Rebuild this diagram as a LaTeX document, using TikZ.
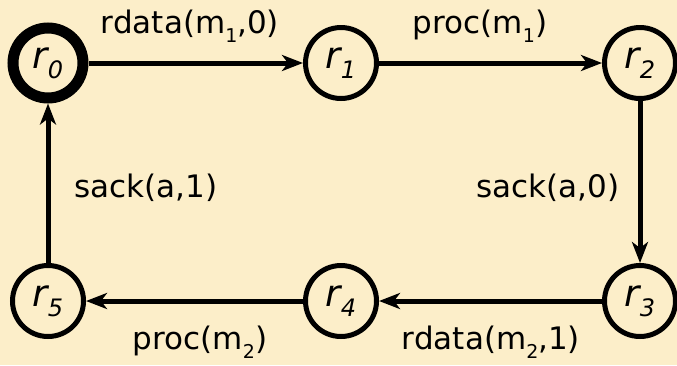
\documentclass[tikz,border=0pt]{standalone}
\usepackage{fontspec}
\setmainfont{DejaVu Sans}
\usetikzlibrary{arrows.meta}
\definecolor{bg}{HTML}{FCEEC9}
\newcommand{\stsub}[1]{\raisebox{-0.27em}{\fontsize{24}{24}\selectfont #1}}
\newcommand{\lbsub}[1]{\raisebox{-0.3em}{\fontsize{19}{19}\selectfont #1}}
\begin{document}
\begin{tikzpicture}[x=1pt,y=-1pt,
  state/.style={circle,draw,line width=5pt,minimum size=71pt,inner sep=0pt,
    font=\fontsize{37}{40}\selectfont\itshape},
  init/.style={state,line width=11pt,minimum size=70pt},
  trans/.style={line width=5pt,-{Stealth[length=21pt,width=16pt,inset=6pt]}},
  lbl/.style={font=\fontsize{31}{33}\selectfont,inner sep=0pt,anchor=base}]
\fill[bg] (0,0) rectangle (677,365);
\useasboundingbox (0,0) rectangle (677,365);
\node[init]  (r0) at (48,63)  {r\stsub{0}};
\node[state] (r1) at (341,63) {r\stsub{1}};
\node[state] (r2) at (640,63) {r\stsub{2}};
\node[state] (r3) at (640,301) {r\stsub{3}};
\node[state] (r4) at (341,301) {r\stsub{4}};
\node[state] (r5) at (48,301) {r\stsub{5}};
\draw[trans] (r0) -- (r1);
\draw[trans] (r1) -- (r2);
\draw[trans] (r2) -- (r3);
\draw[trans] (r3) -- (r4);
\draw[trans] (r4) -- (r5);
\draw[trans] (r5) -- (r0);
\node[lbl] (l01) at (190,33)  {rdata(m\lbsub{1},0)};
\node[lbl] (l12) at (480,33)  {proc(m\lbsub{1})};
\node[lbl] (l23) at (548,197) {sack(a,0)};
\node[lbl] (l50) at (146,197) {sack(a,1)};
\node[lbl] (l45) at (200,349) {proc(m\lbsub{2})};
\node[lbl] (l34) at (491,349) {rdata(m\lbsub{2},1)};
\end{tikzpicture}
\end{document}
